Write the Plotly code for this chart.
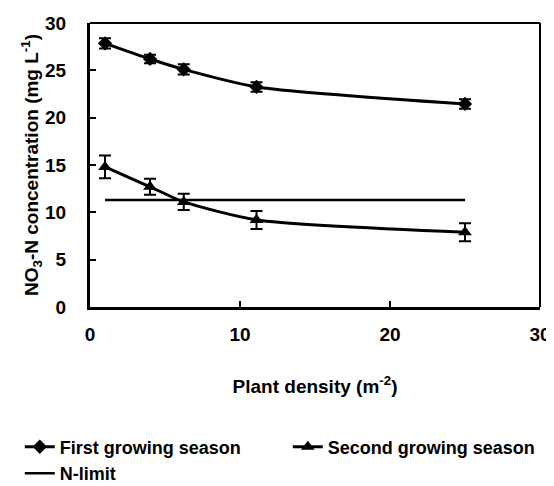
import plotly.graph_objects as go

density = [1, 4, 6.25, 11.1, 25]
first_season = [27.85, 26.2, 25.1, 23.25, 21.45]
first_err = [0.55, 0.45, 0.55, 0.5, 0.5]
second_season = [14.8, 12.7, 11.1, 9.2, 7.9]
second_err = [1.2, 0.85, 0.85, 0.95, 0.95]
nlimit_x = [1, 25]
nlimit_y = [11.3, 11.3]

x_ticks = [0, 10, 20, 30]
y_ticks = [0, 5, 10, 15, 20, 25, 30]

FAM = "Liberation Sans, Arial, sans-serif"
TICKFONT = dict(family=FAM, size=19, color="black", weight="bold")
TITLEFONT = dict(family=FAM, size=19, color="black", weight="bold")

fig = go.Figure()
fig.add_trace(go.Scatter(
    x=density, y=first_season, name="First growing season",
    mode="lines+markers",
    line=dict(color="black", width=3, shape="spline", smoothing=0.6),
    marker=dict(symbol="diamond", size=11, color="black"),
    error_y=dict(type="data", array=first_err, color="black", thickness=2, width=6),
))
fig.add_trace(go.Scatter(
    x=density, y=second_season, name="Second growing season",
    mode="lines+markers",
    line=dict(color="black", width=3, shape="spline", smoothing=0.6),
    marker=dict(symbol="triangle-up", size=12, color="black"),
    error_y=dict(type="data", array=second_err, color="black", thickness=2, width=6),
))
fig.add_trace(go.Scatter(
    x=nlimit_x, y=nlimit_y, name="N-limit",
    mode="lines", line=dict(color="black", width=2.5),
))

fig.update_xaxes(
    range=[0, 30], tickvals=x_ticks, ticks="inside", ticklen=6, tickwidth=2,
    tickcolor="black", showline=True, linewidth=3, linecolor="black",
    showgrid=False, zeroline=False, tickfont=TICKFONT, ticklabelstandoff=8,
    automargin=False,
    title=dict(text="Plant density (m<sup>-2</sup>)", font=TITLEFONT, standoff=36),
)
fig.update_yaxes(
    range=[0, 30], tickvals=y_ticks, ticks="inside", ticklen=6, tickwidth=2,
    tickcolor="black", showline=True, linewidth=3, linecolor="black",
    showgrid=False, zeroline=False, tickfont=TICKFONT, ticklabelstandoff=17,
    automargin=False,
    title=dict(text="NO<sub>3</sub>-N concentration (mg L<sup>-1</sup>)", font=TITLEFONT, standoff=1),
)

fig.add_shape(type="line", xref="paper", yref="paper", x0=0, x1=1, y0=1, y1=1,
              line=dict(color="black", width=2))
fig.add_shape(type="line", xref="paper", yref="paper", x0=1, x1=1, y0=0, y1=1,
              line=dict(color="black", width=2))

# page body has an 8px default margin, so the figure is sized/shifted to compensate
fig.update_layout(
    width=546, height=478,
    margin=dict(l=82, r=14, t=15, b=179, autoexpand=False),
    plot_bgcolor="white", paper_bgcolor="white",
    showlegend=True,
    legend=dict(orientation="h", x=-0.156, y=-0.428, xanchor="left", yanchor="top",
                font=dict(family=FAM, size=18, color="black", weight="bold"),
                itemwidth=30, entrywidth=223, entrywidthmode="pixels"),
)

fig.write_html("out.html")
